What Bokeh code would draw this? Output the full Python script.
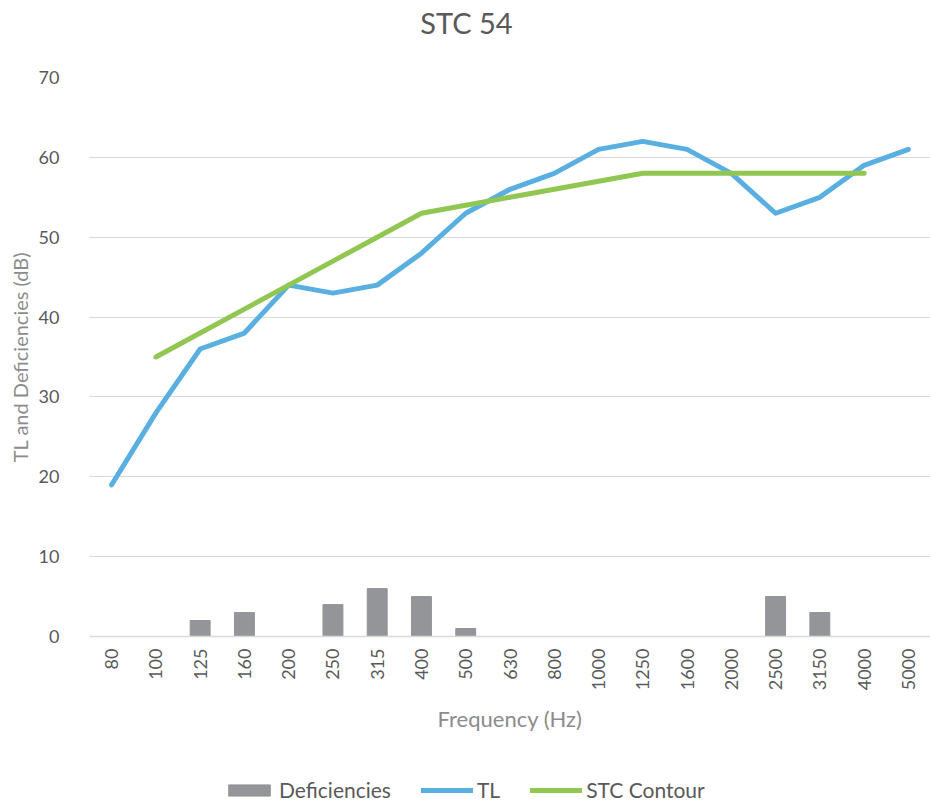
import math
from bokeh.plotting import figure
from bokeh.layouts import column
from bokeh.models import FactorRange, Range1d, Legend, LegendItem, Label
from bokeh.embed import file_html
from bokeh.resources import INLINE

freqs = ["80", "100", "125", "160", "200", "250", "315", "400", "500", "630",
         "800", "1000", "1250", "1600", "2000", "2500", "3150", "4000", "5000"]
tl = [19, 28, 36, 38, 44, 43, 44, 48, 53, 56, 58, 61, 62, 61, 58, 53, 55, 59, 61]
stc_freqs = ["100", "125", "160", "200", "250", "315", "400", "500", "630", "800",
             "1000", "1250", "1600", "2000", "2500", "3150", "4000"]
stc = [35, 38, 41, 44, 47, 50, 53, 54, 55, 56, 57, 58, 58, 58, 58, 58, 58]
deficiencies = [0, 0, 2, 3, 0, 4, 6, 5, 1, 0, 0, 0, 0, 0, 0, 5, 3, 0, 0]
series_names = ["Deficiencies", "TL", "STC Contour"]
chart_title = "STC 54"

FONT = "Lato"
TXT = "#595959"
C_BAR, C_TL, C_STC = "#939598", "#5aafe1", "#92c653"


def draw_series(fig):
    rb = fig.vbar(x=freqs, top=deficiencies, width=0.45, color=C_BAR)
    rt = fig.line(x=freqs, y=tl, line_width=5, color=C_TL, line_cap="round", line_join="round")
    rs = fig.line(x=stc_freqs, y=stc, line_width=5, color=C_STC, line_cap="round", line_join="round")
    return rb, rt, rs


# title strip (pixel-mapped ranges: frame spans x 89..930, y 0..44 from the top)
ts = figure(width=930, height=44, output_backend="svg", toolbar_location=None,
            x_range=Range1d(89, 930), y_range=Range1d(44, 0),
            x_axis_location=None, y_axis_location=None,
            min_border_left=0, min_border_right=0, min_border_top=0, min_border_bottom=0)
ts.outline_line_color = None
ts.grid.grid_line_color = None
ts.add_layout(Label(x=466, y=22, text=chart_title, text_align="center", text_baseline="middle",
                    text_font=FONT, text_font_size="29px", text_color=TXT))

p = figure(x_range=FactorRange(*freqs, range_padding=0), y_range=Range1d(0, 70),
           width=930, height=716, output_backend="svg", toolbar_location=None,
           min_border_left=89, min_border_right=0, min_border_top=33, min_border_bottom=124)
p.outline_line_color = None

draw_series(p)

p.ygrid.grid_line_color = "#d9d9d9"
p.ygrid.grid_line_width = 1
p.xgrid.grid_line_color = None

p.yaxis.ticker = list(range(0, 71, 10))
p.yaxis.axis_line_color = None
p.yaxis.major_tick_line_color = None
p.yaxis.minor_tick_line_color = None
p.yaxis.major_label_standoff = 24
p.yaxis.major_label_text_font = FONT
p.yaxis.major_label_text_font_size = "18px"
p.yaxis.major_label_text_color = TXT
p.yaxis.axis_label = "TL and Deficiencies (dB)"
p.yaxis.axis_label_text_font = FONT
p.yaxis.axis_label_text_font_size = "20px"
p.yaxis.axis_label_text_font_style = "normal"
p.yaxis.axis_label_text_color = "#8c8c8c"
p.yaxis.axis_label_standoff = 4

p.xaxis.axis_line_color = "#d9d9d9"
p.xaxis.axis_line_width = 1.5
p.xaxis.major_tick_line_color = None
p.xaxis.minor_tick_line_color = None
p.xaxis.major_label_orientation = math.pi / 2
p.xaxis.major_label_standoff = 6
p.xaxis.major_label_text_font = FONT
p.xaxis.major_label_text_font_size = "18px"
p.xaxis.major_label_text_color = TXT
p.xaxis.axis_label = "Frequency (Hz)"
p.xaxis.axis_label_text_font = FONT
p.xaxis.axis_label_text_font_size = "22px"
p.xaxis.axis_label_text_font_style = "normal"
p.xaxis.axis_label_text_color = "#8c8c8c"
p.xaxis.axis_label_standoff = 12

# legend strip below the chart (series drawn outside its visible range; only the legend shows)
lg = figure(width=930, height=42, output_backend="svg", toolbar_location=None,
            x_range=FactorRange(*freqs, range_padding=0), y_range=Range1d(1000, 1001),
            x_axis_location=None, y_axis_location=None,
            min_border_left=0, min_border_right=0, min_border_top=0, min_border_bottom=0)
lg.outline_line_color = None
lg.grid.grid_line_color = None
r_bar, r_tl, r_stc = draw_series(lg)

legend = Legend(items=[LegendItem(label=series_names[0], renderers=[r_bar]),
                       LegendItem(label=series_names[1], renderers=[r_tl]),
                       LegendItem(label=series_names[2], renderers=[r_stc])],
                orientation="horizontal", location=(134, 0),
                glyph_width=52, glyph_height=14, label_standoff=4, spacing=30,
                padding=0, margin=0, border_line_color=None, background_fill_alpha=0,
                label_text_font=FONT, label_text_font_size="21px", label_text_color=TXT)
lg.add_layout(legend, "center")

layout = column(ts, p, lg, spacing=0)
open("out.html", "w").write(file_html(layout, INLINE))
